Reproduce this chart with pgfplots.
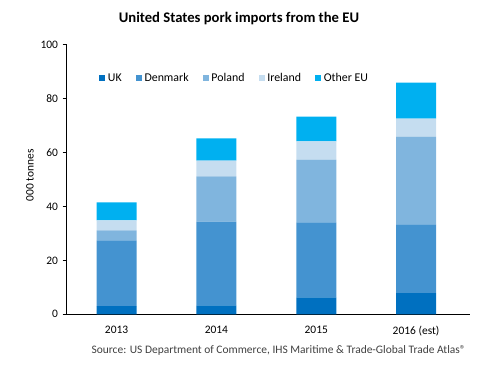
\documentclass[border=0pt]{standalone}
\usepackage{pgfplots}
\pgfplotsset{compat=1.18}
\usepackage{fontspec}
\setmainfont{Carlito}
\definecolor{cUK}{HTML}{0070C0}
\definecolor{cDK}{HTML}{4493D0}
\definecolor{cPL}{HTML}{80B5DE}
\definecolor{cIE}{HTML}{C5DDF0}
\definecolor{cOT}{HTML}{00B0F0}
\begin{document}
\begin{tikzpicture}
\useasboundingbox (0,0) rectangle (360pt,274.5pt);
\node[font=\bfseries\fontsize{11}{12}\selectfont] at (179.25pt,260.25pt) {United States pork imports from the EU};
\begin{axis}[
  at={(50pt,38.8pt)}, anchor=south west,
  scale only axis, width=302.5pt, height=202.2pt,
  ybar stacked, bar width=30pt,
  xmin=-0.5, xmax=3.54, ymin=0, ymax=100,
  xtick=data, xticklabels={2013,2014,2015,2016 (est)},
  x tick style={draw=none},
  ytick={0,20,40,60,80,100},
  tick align=outside, major tick length=3pt,
  axis x line*=bottom, axis y line*=left,
  axis line style={black, line width=0.6pt},
  y tick style={black, line width=0.6pt},
  tick label style={font=\fontsize{8.6}{9}\selectfont},
  /pgf/number format/assume math mode=true,
  xticklabel style={yshift=-2pt},
  ylabel={000 tonnes},
  ylabel style={font=\fontsize{8.6}{9}\selectfont, at={(axis description cs:-0.091,0.515)}, anchor=center, rotate=0},
  legend columns=-1,
  legend style={draw=none, fill=none, at={(axis description cs:0.07,0.875)}, anchor=west,
    font=\fontsize{8.9}{9}\selectfont, /tikz/every even column/.append style={column sep=8.5pt}},
  legend image code/.code={\fill[#1] (0pt,-2.3pt) rectangle (4.6pt,2.3pt);},
  clip=false,
]
\addplot[fill=cUK, draw=none] coordinates {(0,3.0) (1,3.3) (2,6.3) (3,7.8)};
\addplot[fill=cDK, draw=none] coordinates {(0,24.4) (1,31.1) (2,27.8) (3,25.5)};
\addplot[fill=cPL, draw=none] coordinates {(0,3.7) (1,16.7) (2,23.3) (3,32.6)};
\addplot[fill=cIE, draw=none] coordinates {(0,3.7) (1,5.9) (2,6.7) (3,6.7)};
\addplot[fill=cOT, draw=none] coordinates {(0,6.7) (1,8.2) (2,9.2) (3,13.3)};
\legend{UK,Denmark,Poland,Ireland,Other EU}
\node[anchor=east, font=\fontsize{8.6}{9}\selectfont, text=black!75] at ([yshift=-26.8pt]rel axis cs:1.001,0) {Source: US Department of Commerce, IHS Maritime \& Trade-Global Trade Atlas\textregistered};
\end{axis}
\end{tikzpicture}
\end{document}
